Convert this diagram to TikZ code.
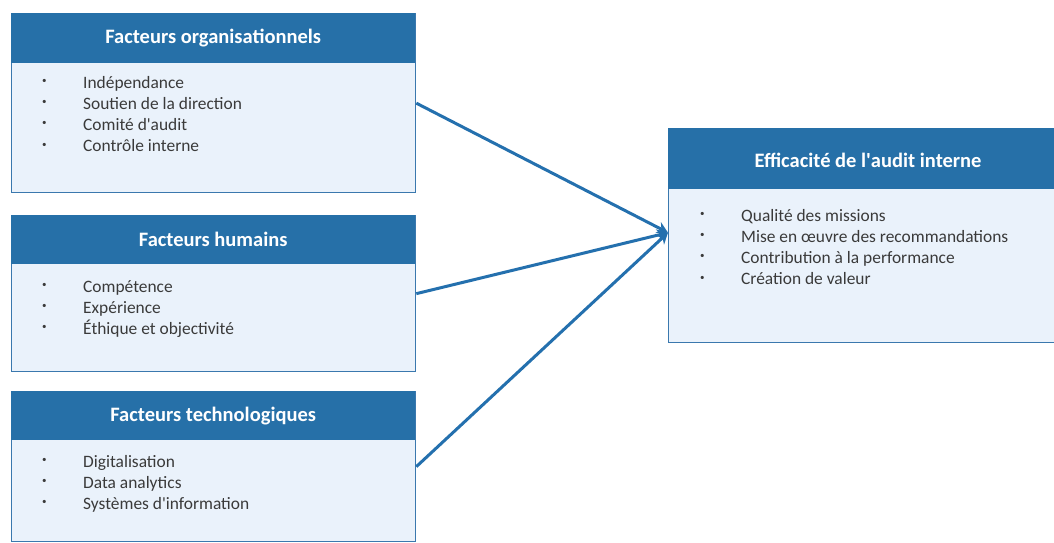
\documentclass[tikz,border=0pt]{standalone}
\usepackage{fontspec}
\setmainfont{Carlito}
\usetikzlibrary{arrows.meta}
\definecolor{hdr}{HTML}{2670A8}
\definecolor{bodyfill}{HTML}{EAF2FB}
\definecolor{edge}{HTML}{3A78AE}
\definecolor{arr}{HTML}{2470AE}
\definecolor{txt}{HTML}{3A3A3A}
\tikzset{
  bodybox/.style={draw=edge, line width=1.3pt, fill=bodyfill, anchor=north west, inner sep=0pt},
  hdrbox/.style={fill=hdr, anchor=north west, inner sep=0pt},
  title/.style={text=white, font=\fontsize{20.5}{24}\selectfont\bfseries},
  items/.style={anchor=base west, inner sep=0pt, align=left, font=\fontsize{17.4}{21.2}\selectfont, text=txt},
  link/.style={draw=arr, line width=3pt, -{Stealth[length=11pt,width=12pt]}}
}
\newcommand{\blt}{\makebox[41pt][l]{\raisebox{4.5pt}{\fontsize{9}{9}\selectfont\textbullet}}}
\newcommand{\apos}{\textquotesingle}
\begin{document}
\begin{tikzpicture}[x=1pt,y=-1pt]
\useasboundingbox (0,0) rectangle (1054,542);
\clip (0,0) rectangle (1054,542);
\fill[white] (0,0) rectangle (1054,542);
% box 1
\node[bodybox, minimum width=404pt, minimum height=179pt] (b1) at (11,13) {};
\node[hdrbox, minimum width=404pt, minimum height=50pt] (h1) at (11,13) {};
\node[title] (t1) at (h1.center) {Facteurs organisationnels};
\node[items] (l1) at (42,151.6) {\blt Indépendance\\ \blt Soutien de la direction\\ \blt Comité d\apos audit\\ \blt Contrôle interne};
% box 2
\node[bodybox, minimum width=404pt, minimum height=156pt] (b2) at (11,215) {};
\node[hdrbox, minimum width=404pt, minimum height=49pt] (h2) at (11,215) {};
\node[title] (t2) at (h2.center) {Facteurs humains};
\node[items] (l2) at (42,334.4) {\blt Compétence\\ \blt Expérience\\ \blt Éthique et objectivité};
% box 3
\node[bodybox, minimum width=404pt, minimum height=150pt] (b3) at (11,391) {};
\node[hdrbox, minimum width=404pt, minimum height=49pt] (h3) at (11,391) {};
\node[title] (t3) at (h3.center) {Facteurs technologiques};
\node[items] (l3) at (42,509.4) {\blt Digitalisation\\ \blt Data analytics\\ \blt Systèmes d\apos information};
% right box
\node[bodybox, minimum width=400pt, minimum height=214pt] (b4) at (668,128) {};
\node[hdrbox, minimum width=400pt, minimum height=61pt] (h4) at (668,128) {};
\node[title] (t4) at (868,160) {Efficacité de l\apos audit interne};
\node[items] (l4) at (700,284.6) {\blt Qualité des missions\\ \blt Mise en œuvre des recommandations\\ \blt Contribution à la performance\\ \blt Création de valeur};
% connectors
\coordinate (tip) at ([yshift=3pt]b4.west);
\draw[link] (b1.east) -- (tip);
\draw[link] (b2.east) -- (tip);
\draw[link] (b3.east) -- (tip);
\end{tikzpicture}
\end{document}
